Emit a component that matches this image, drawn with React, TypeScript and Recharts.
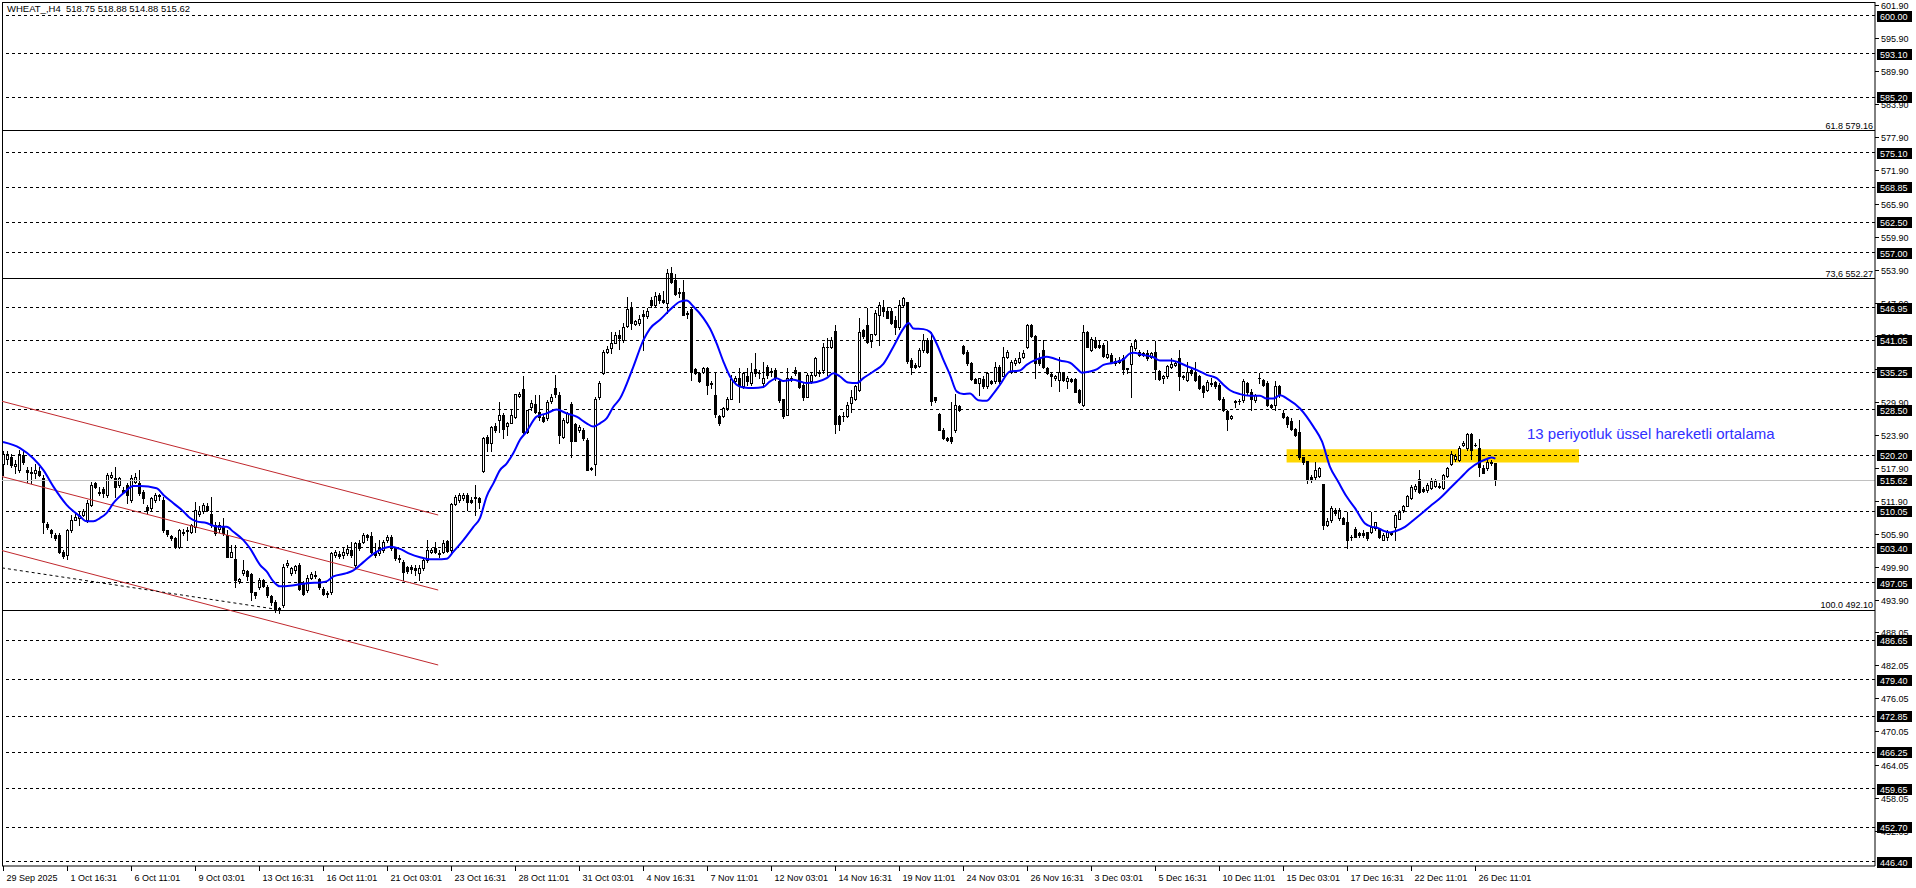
import React from 'react';
import { ComposedChart, Bar, Line, XAxis, YAxis, ReferenceLine, ReferenceArea } from 'recharts';

// WHEAT H4 bars, [open, high, low, close]
const barsOct = [
  [518.7, 520.9, 516.6, 520.5], [519.6, 520.9, 518.7, 520.5], [519.9, 520.5, 518.1, 518.4], [518.3, 519.3, 516.9, 518.7],
  [517.5, 521.2, 517.2, 520.5], [520.2, 520.9, 518.7, 519.0], [517.5, 518.1, 515.4, 517.1], [517.2, 518.1, 515.1, 517.0],
  [516.9, 518.7, 516.0, 517.5], [517.4, 518.0, 516.4, 516.6], [516.0, 516.6, 506.0, 508.1], [507.7, 508.0, 506.9, 507.1],
  [506.6, 506.9, 505.4, 506.0], [505.7, 506.0, 504.8, 505.1], [505.7, 506.0, 502.4, 502.7], [502.7, 503.0, 501.5, 501.9],
  [502.1, 506.9, 501.3, 506.6], [506.6, 509.4, 506.3, 508.4], [508.4, 509.7, 508.4, 509.0], [508.8, 510.0, 507.5, 509.4],
  [509.4, 510.4, 509.1, 510.0], [508.4, 512.1, 508.1, 511.5], [511.2, 515.4, 510.9, 514.8], [515.2, 515.4, 514.2, 514.5],
  [513.6, 514.5, 513.0, 513.3], [514.0, 514.5, 512.7, 513.3], [513.0, 516.9, 512.7, 516.6], [516.3, 517.2, 516.0, 516.6],
  [516.0, 518.1, 512.7, 514.5], [514.8, 516.3, 514.5, 516.0], [513.9, 514.5, 513.3, 513.6], [514.8, 515.1, 511.5, 513.0],
  [512.1, 516.6, 511.8, 516.0], [515.4, 516.9, 515.1, 516.3], [515.1, 517.5, 513.0, 513.3], [513.6, 513.9, 511.5, 512.4],
  [510.8, 511.2, 509.7, 510.3], [510.6, 512.7, 510.0, 512.4], [512.1, 513.3, 511.8, 513.0], [512.8, 513.2, 512.1, 512.9],
  [512.1, 512.7, 506.3, 506.6], [506.6, 506.6, 505.5, 505.9], [505.5, 505.7, 504.8, 505.1], [505.1, 505.3, 503.3, 503.6],
  [503.6, 506.8, 503.3, 506.6], [506.3, 506.9, 505.7, 506.0], [506.4, 507.2, 504.8, 506.6], [506.3, 507.8, 506.0, 507.5],
  [507.2, 511.8, 506.3, 510.3], [509.5, 510.9, 509.1, 510.1], [510.0, 511.6, 509.7, 511.2], [511.0, 511.6, 510.0, 510.2],
  [509.5, 512.7, 507.2, 507.5], [507.5, 508.1, 505.7, 506.0], [506.9, 508.1, 506.3, 507.5], [507.4, 508.8, 505.7, 506.0],
  [505.7, 506.6, 501.7, 501.8], [501.8, 503.9, 501.7, 502.7], [501.3, 503.9, 496.3, 497.6], [497.3, 497.9, 497.0, 497.7],
  [498.9, 501.2, 498.5, 499.4], [499.1, 499.4, 497.6, 498.2], [498.6, 498.8, 493.9, 495.4], [495.3, 495.4, 494.2, 494.8],
  [496.3, 497.9, 496.0, 497.6], [497.5, 497.7, 496.3, 496.5], [496.3, 496.6, 494.5, 494.8], [494.7, 494.8, 493.0, 493.6],
  [493.6, 493.9, 491.8, 492.1], [492.4, 492.7, 491.5, 492.1], [493.0, 500.5, 492.7, 500.0], [500.2, 501.1, 500.0, 500.7],
  [498.9, 500.0, 498.5, 499.7], [499.4, 500.3, 498.8, 500.1], [500.3, 500.6, 495.7, 496.0], [497.0, 497.3, 494.8, 495.1],
  [495.7, 498.5, 495.4, 497.9], [498.0, 499.0, 497.7, 498.6], [498.2, 499.1, 497.9, 498.5], [497.7, 498.0, 496.0, 496.3],
  [496.0, 496.3, 494.8, 495.1], [495.2, 495.5, 494.5, 495.0], [495.4, 502.7, 495.1, 502.4], [502.1, 503.0, 501.8, 502.7],
  [502.3, 502.9, 501.5, 502.0], [502.1, 503.6, 501.5, 502.7], [502.4, 503.9, 502.1, 503.1], [503.0, 504.5, 501.8, 502.1],
  [500.3, 504.5, 500.0, 504.2], [504.2, 504.8, 503.0, 503.3], [504.5, 506.0, 504.2, 505.7], [505.7, 505.9, 504.8, 505.3],
  [505.5, 506.3, 502.4, 502.7], [502.7, 504.2, 501.8, 502.1], [502.4, 504.8, 502.1, 503.3], [503.0, 504.8, 502.7, 504.5],
  [504.8, 505.7, 504.5, 505.4], [505.4, 505.7, 503.0, 503.3], [503.3, 503.6, 501.2, 501.5], [501.3, 502.1, 500.9, 501.5],
  [500.9, 501.2, 497.6, 499.0], [499.9, 500.1, 498.8, 499.1], [499.9, 500.3, 498.8, 499.6], [499.7, 500.3, 498.5, 499.4],
  [498.8, 500.3, 497.6, 499.7], [499.7, 501.5, 499.4, 501.2], [501.2, 504.8, 500.9, 503.0], [502.7, 503.3, 502.4, 503.0],
  [503.3, 504.5, 502.4, 502.7], [502.4, 503.0, 501.8, 502.3], [502.7, 504.8, 502.4, 504.2], [504.7, 504.9, 502.7, 502.9],
  [503.0, 511.6, 502.7, 511.3], [511.4, 513.0, 511.2, 512.7], [512.1, 513.4, 511.8, 513.0], [512.4, 513.3, 512.1, 513.0],
  [513.0, 513.4, 510.3, 511.8], [512.1, 512.7, 511.5, 511.8], [512.7, 514.8, 509.3, 512.4], [512.4, 512.7, 510.6, 511.8],
  [517.4, 523.6, 517.2, 523.3], [523.6, 523.9, 520.9, 522.4], [522.5, 525.5, 520.9, 525.4], [525.5, 526.0, 524.5, 524.7],
  [526.6, 529.9, 524.5, 527.5], [527.5, 527.8, 523.3, 524.9], [525.5, 526.3, 523.9, 526.0], [526.1, 528.4, 526.0, 527.5],
  [527.2, 531.4, 526.9, 531.3], [530.9, 531.7, 530.8, 531.3], [532.2, 534.6, 524.2, 524.5], [524.5, 528.5, 524.3, 528.4],
  [528.9, 530.2, 528.4, 529.6], [529.5, 531.1, 527.8, 528.1], [528.1, 531.1, 526.6, 527.2], [527.2, 527.5, 526.3, 526.5],
  [526.9, 530.2, 526.6, 529.9], [530.1, 531.4, 529.6, 530.8], [532.5, 534.8, 530.8, 531.4], [531.1, 531.7, 522.4, 523.9],
  [523.6, 526.9, 523.3, 526.6], [526.3, 528.1, 526.0, 527.8], [529.5, 529.9, 519.9, 522.8], [525.9, 526.1, 522.7, 522.8],
  [524.8, 525.7, 524.5, 525.4], [524.8, 525.1, 523.0, 523.3], [523.0, 523.3, 517.5, 517.6], [517.8, 518.1, 517.5, 517.7],
  [518.6, 530.8, 516.6, 530.5], [530.7, 533.6, 530.5, 533.4],
];

const barsNov = [
  [535.1, 539.3, 535.0, 539.0], [539.0, 540.0, 538.7, 539.5], [539.6, 542.6, 538.7, 540.5], [540.6, 542.6, 540.5, 542.0],
  [542.0, 543.0, 539.5, 541.5], [541.1, 544.2, 540.8, 543.4], [543.7, 549.0, 543.5, 546.7], [547.0, 548.1, 543.2, 544.3],
  [544.0, 544.8, 543.8, 544.6], [544.3, 545.7, 543.8, 545.0], [545.8, 546.6, 539.3, 545.4], [545.5, 546.9, 545.1, 546.4],
  [548.4, 549.0, 547.2, 547.5], [547.5, 549.9, 547.2, 549.1], [549.3, 549.7, 547.8, 548.4], [548.4, 550.1, 547.9, 548.1],
  [547.9, 554.1, 546.0, 553.3], [553.2, 554.4, 551.4, 551.7], [552.1, 553.1, 549.3, 549.5], [549.8, 550.5, 549.0, 549.6],
  [549.9, 552.0, 545.7, 545.7], [546.0, 546.3, 545.1, 545.9], [546.7, 546.9, 533.9, 535.4], [535.8, 536.0, 535.0, 535.2],
  [535.1, 535.4, 533.5, 533.7], [535.4, 536.3, 535.1, 536.0], [536.0, 536.3, 531.4, 533.0], [533.4, 533.6, 532.4, 533.2],
  [531.1, 535.1, 527.2, 527.7], [527.4, 527.5, 525.7, 526.0], [527.4, 529.0, 527.2, 528.7], [528.7, 530.8, 528.4, 530.5],
  [530.5, 534.8, 530.4, 534.0], [533.6, 534.5, 533.3, 534.2], [534.2, 536.0, 529.9, 532.7], [532.7, 535.4, 532.5, 535.1],
  [534.5, 536.0, 532.9, 533.6], [533.3, 536.9, 533.0, 535.4], [535.8, 538.7, 534.5, 535.1], [535.2, 535.7, 534.2, 535.1],
  [533.4, 537.2, 532.6, 534.3], [536.3, 536.6, 534.2, 534.8], [535.5, 536.0, 534.5, 535.3], [535.7, 536.0, 533.9, 534.2],
  [533.6, 533.9, 529.9, 530.2], [530.4, 530.5, 526.9, 527.4], [527.6, 536.0, 527.5, 534.2], [534.1, 534.5, 533.6, 534.2],
  [535.7, 536.3, 534.8, 535.1], [535.1, 535.4, 532.5, 532.6], [532.9, 533.3, 530.2, 530.7], [530.8, 535.1, 530.7, 534.8],
  [533.6, 535.1, 533.3, 534.8], [534.8, 538.1, 534.5, 537.8], [535.2, 535.7, 534.6, 535.4], [535.6, 540.5, 535.2, 539.9],
  [539.9, 541.4, 534.8, 539.9], [539.9, 541.6, 539.6, 541.2], [542.8, 543.8, 524.2, 525.9], [527.4, 527.5, 524.8, 525.9],
  [527.4, 528.1, 526.5, 527.3], [527.4, 529.9, 527.2, 529.4], [529.7, 532.0, 528.1, 530.8], [530.5, 532.9, 530.2, 532.7],
  [532.0, 545.1, 531.9, 542.5], [543.0, 543.2, 541.4, 541.9], [543.8, 546.9, 540.5, 540.8], [541.0, 542.3, 539.9, 542.2],
  [542.3, 546.6, 542.0, 546.1], [545.7, 548.1, 540.2, 547.5], [546.9, 548.4, 545.4, 546.3], [546.3, 547.2, 545.1, 545.1],
  [546.3, 546.9, 544.0, 544.3], [544.8, 545.4, 542.3, 543.4], [543.5, 548.4, 543.2, 547.5], [547.5, 549.0, 547.2, 548.7],
  [548.1, 548.1, 536.9, 537.4], [537.5, 537.8, 535.0, 536.2], [536.6, 536.9, 536.0, 536.3], [536.4, 539.6, 536.3, 539.3],
  [539.3, 542.3, 539.0, 541.1], [541.1, 541.4, 538.7, 539.0], [541.0, 542.6, 529.3, 530.1], [530.7, 530.8, 529.9, 530.3],
  [527.7, 527.8, 524.7, 524.8], [524.8, 525.1, 523.1, 523.3], [523.3, 523.6, 522.7, 523.0], [523.6, 529.9, 522.4, 522.7],
  [524.8, 531.4, 524.5, 529.3], [529.2, 529.3, 528.3, 528.4], [540.1, 540.2, 538.6, 538.7], [539.0, 539.3, 536.5, 536.9],
  [536.9, 537.2, 533.9, 534.0], [534.0, 534.2, 533.3, 533.4], [533.3, 534.2, 531.1, 534.2], [534.0, 534.5, 532.5, 532.7],
  [532.8, 535.4, 532.5, 535.1], [533.6, 533.9, 533.1, 533.4], [533.6, 537.2, 533.3, 536.3], [536.3, 536.6, 533.3, 533.6],
  [534.6, 539.9, 534.5, 538.1], [538.0, 539.3, 537.8, 539.0], [535.4, 537.5, 535.1, 537.2], [536.9, 537.8, 536.6, 537.5],
  [537.2, 539.0, 536.9, 537.8], [538.0, 539.3, 537.8, 538.7], [539.9, 544.1, 539.6, 543.8], [543.8, 544.0, 541.7, 541.8],
  [541.8, 542.0, 534.2, 536.9], [537.8, 538.7, 536.6, 536.9], [539.4, 541.1, 536.0, 536.3], [536.0, 536.3, 535.0, 535.2],
];

const barsDec = [
  [535.0, 535.2, 532.7, 534.5], [534.2, 534.8, 533.9, 534.6], [533.9, 538.1, 531.9, 535.4], [535.2, 535.4, 533.6, 533.9],
  [533.6, 534.5, 532.5, 534.2], [534.0, 534.3, 533.5, 533.7], [534.0, 534.2, 531.6, 531.7], [532.0, 532.2, 529.6, 529.9],
  [529.3, 543.8, 529.1, 542.5], [542.6, 542.8, 539.8, 539.9], [539.3, 541.6, 539.2, 541.3], [541.1, 541.6, 539.6, 539.9],
  [540.2, 541.1, 539.6, 539.9], [540.2, 540.5, 538.1, 538.2], [538.0, 541.0, 537.8, 538.6], [538.4, 538.7, 536.9, 537.2],
  [537.3, 537.8, 536.6, 537.0], [537.2, 538.1, 536.9, 537.5], [537.9, 538.4, 535.0, 535.9], [535.9, 536.1, 535.1, 536.0],
  [536.7, 540.5, 530.8, 540.0], [539.6, 541.3, 539.4, 541.0], [539.0, 539.3, 538.2, 538.4], [538.7, 539.0, 538.2, 538.4],
  [538.8, 539.3, 537.5, 537.8], [538.1, 539.0, 537.8, 538.7], [539.0, 541.0, 534.0, 535.8], [535.5, 535.7, 533.9, 534.0],
  [534.2, 534.8, 533.3, 534.6], [534.5, 536.6, 534.2, 536.4], [536.3, 537.8, 536.0, 536.7], [536.6, 537.2, 536.4, 537.0],
  [537.8, 539.3, 532.0, 534.5], [534.6, 534.8, 534.0, 534.4], [533.9, 537.2, 533.6, 535.4], [535.7, 536.0, 534.8, 535.1],
  [535.1, 537.2, 533.6, 533.9], [534.5, 534.8, 532.3, 532.5], [532.8, 533.0, 530.8, 531.7], [532.0, 533.9, 531.9, 533.5],
  [533.1, 534.2, 532.8, 533.4], [533.5, 533.6, 532.5, 532.7], [533.0, 533.3, 530.2, 530.5], [530.5, 530.7, 528.3, 528.4],
  [528.2, 528.4, 524.8, 526.7], [526.9, 527.5, 526.7, 527.3], [529.9, 530.2, 528.9, 530.0], [530.0, 530.4, 529.5, 530.1],
  [530.2, 534.0, 529.9, 533.7], [533.4, 533.5, 531.4, 531.7], [531.7, 532.3, 528.4, 530.4], [530.2, 531.4, 529.9, 531.1],
  [534.2, 535.1, 533.4, 534.3], [533.9, 534.0, 532.8, 533.0], [533.3, 533.6, 529.1, 529.3], [529.3, 529.5, 528.7, 528.9],
  [529.3, 533.6, 528.5, 532.8], [532.7, 533.0, 530.8, 531.1], [527.8, 528.4, 526.9, 527.1], [527.2, 527.3, 525.4, 525.9],
  [526.5, 526.9, 524.8, 524.9], [524.9, 525.1, 523.7, 523.9], [524.5, 526.6, 519.6, 519.8], [519.8, 519.9, 518.7, 519.0],
  [519.2, 519.2, 515.1, 515.7], [516.2, 516.6, 515.4, 515.8], [516.2, 519.0, 515.7, 517.6], [516.4, 518.1, 516.3, 517.8],
  [515.0, 515.0, 506.9, 507.5], [507.5, 508.8, 507.4, 508.3], [508.5, 510.9, 508.1, 510.6], [510.3, 510.7, 509.4, 509.7],
  [508.8, 510.6, 508.5, 510.3], [508.8, 509.0, 507.7, 507.8], [508.1, 509.9, 503.3, 504.9], [505.4, 505.7, 504.9, 505.4],
  [506.8, 507.2, 505.3, 505.4], [506.0, 506.3, 505.4, 505.7], [506.1, 506.6, 505.4, 505.7], [506.2, 506.3, 504.9, 505.1],
  [506.2, 509.9, 506.0, 507.2], [507.0, 508.1, 506.6, 508.0], [506.8, 506.9, 505.1, 505.3], [504.9, 506.0, 504.8, 505.7],
  [505.4, 506.6, 504.9, 506.3], [506.1, 506.3, 505.7, 505.9], [507.2, 509.7, 504.9, 509.4], [508.7, 510.3, 508.6, 509.9],
  [510.3, 511.2, 509.9, 510.9], [511.0, 513.0, 510.9, 512.8], [512.4, 514.8, 512.2, 514.5], [514.0, 515.0, 513.8, 514.6],
  [515.9, 517.5, 513.3, 513.6], [514.0, 514.4, 513.6, 513.8], [513.9, 515.1, 513.6, 514.8], [514.2, 516.0, 514.0, 515.6],
  [514.7, 515.8, 514.4, 515.5], [514.6, 515.1, 514.2, 514.4], [514.2, 516.8, 514.0, 516.6], [516.4, 518.1, 516.3, 517.8],
  [518.6, 520.9, 518.4, 520.4], [519.5, 520.5, 519.2, 520.1], [519.3, 521.8, 519.2, 521.5], [522.1, 522.7, 521.8, 522.4],
  [521.5, 524.2, 521.2, 524.0], [524.0, 524.2, 519.6, 521.2], [522.1, 522.4, 521.8, 522.1], [521.6, 523.1, 516.4, 518.1],
  [517.9, 518.4, 516.9, 517.0], [517.8, 519.3, 517.5, 519.0], [519.0, 519.3, 518.4, 518.8], [518.75, 518.88, 514.88, 515.62],
];

// 13-period EMA: [bar index, value]
const emaPoints = [
  [0, 522.6], [4.25, 521.5], [7.6, 519.6], [10.1, 517.5], [12.6, 514.5], [15.9, 511.2], [19.25, 509.1], [20.9, 508.2],
  [22.6, 508.2], [24.25, 508.8], [25.9, 509.7], [27.6, 511.5], [30.1, 513.3], [32.6, 514.6], [34.25, 514.6], [38.4, 514.2],
  [40.1, 513.0], [42.6, 511.5], [45.1, 510.0], [46.75, 508.8], [48.4, 508.2], [50.9, 507.9], [52.6, 507.4], [54.25, 507.2],
  [55.9, 507.2], [57.6, 506.3], [60.1, 504.8], [61.75, 503.3], [64.25, 500.3], [65.9, 499.1], [67.6, 497.3], [69.25, 496.4],
  [71.75, 496.5], [74.25, 496.8], [76.75, 497.0], [79.25, 497.1], [80.9, 497.3], [82.6, 498.2], [85.9, 498.8], [87.6, 499.3],
  [90.1, 500.8], [92.6, 502.3], [95.1, 503.3], [96.75, 503.6], [99.25, 503.2], [101.75, 502.3], [104.25, 501.7], [106.75, 501.3],
  [108.4, 501.3], [110.9, 501.4], [112.6, 502.7], [115.1, 504.8], [117.6, 507.2], [119.25, 508.8], [120.9, 512.7], [122.6, 515.1],
  [124.25, 517.5], [125.9, 518.7], [127.6, 520.6], [129.25, 523.0], [130.9, 524.5], [133.4, 527.2], [135.9, 527.8], [138.4, 528.5],
  [140.9, 527.8], [143.4, 527.2], [145.9, 526.0], [147.6, 525.4], [149.25, 526.0], [150.9, 526.9], [152.6, 529.0], [154.25, 530.5],
  [157.6, 536.3], [160.1, 541.1], [161.75, 543.2], [164.25, 544.8], [166.75, 546.6], [169.25, 548.1], [170.9, 548.3], [172.6, 547.2],
  [175.1, 545.1], [176.75, 543.2], [178.4, 540.5], [180.1, 537.2], [181.75, 534.5], [183.4, 533.0], [185.1, 532.5], [187.6, 532.4],
  [190.1, 532.6], [191.75, 533.6], [193.4, 534.2], [195.1, 533.7], [197.6, 533.9], [199.25, 533.6], [200.9, 533.3], [203.4, 533.5],
  [205.9, 534.2], [207.6, 535.1], [209.25, 534.5], [211.3, 533.4], [213.4, 533.3], [215.1, 534.2], [217.6, 535.4], [220.1, 536.8],
  [222.6, 539.9], [225.1, 543.2], [226.4, 544.2], [227.6, 543.2], [230.1, 543.1], [231.75, 542.6], [233.4, 540.5], [235.1, 537.5],
  [236.75, 534.8], [238.4, 531.8], [240.1, 531.3], [241.75, 531.4], [243.8, 530.2], [245.9, 530.1], [247.6, 531.4], [249.25, 533.0],
  [251.75, 535.4], [254.25, 535.6], [255.9, 536.6], [258.4, 537.6], [260.9, 538.1], [262.6, 537.8], [264.25, 537.4], [266.75, 537.0],
  [268.4, 536.0], [269.7, 535.2], [271.75, 535.4], [273.4, 535.8], [275.1, 536.6], [277.6, 537.0], [280.1, 537.6], [281.75, 538.7],
  [282.6, 538.8], [285.1, 538.4], [287.6, 538.0], [289.25, 537.4], [291.75, 537.4], [293.4, 537.2], [295.9, 536.4], [298.4, 535.7],
  [300.9, 534.8], [303.4, 534.2], [305.1, 533.0], [306.75, 532.0], [309.25, 531.3], [311.75, 531.0], [314.25, 531.0], [315.9, 530.5],
  [317.6, 530.5], [319.25, 531.1], [321.2, 530.4], [324.25, 528.7], [327.6, 525.4], [329.75, 522.7], [331.75, 518.1], [333.8, 515.4],
  [335.9, 512.7], [338, 510.6], [340.5, 507.8], [342.2, 507.2], [343.4, 507.1], [345.1, 506.5], [346.75, 506.2], [348.4, 506.5],
  [350.5, 507.2], [352.6, 508.4], [355.1, 509.9], [357.2, 511.2], [359.25, 512.4], [361.75, 514.2], [364.25, 516.0], [366.75, 517.8],
  [369.25, 519.0], [370.9, 519.5], [372.1, 519.8], [373.1, 519.6],
];

const timeTicks = [0, 16, 32, 48, 64, 80, 96, 112, 128, 144, 160, 176, 192, 208, 224, 240, 256, 272, 288, 304, 320, 336, 352, 368];
const timeLabels = [
  '29 Sep 2025', '1 Oct 16:31', '6 Oct 11:01', '9 Oct 03:01', '13 Oct 16:31', '16 Oct 11:01', '21 Oct 03:01', '23 Oct 16:31',
  '28 Oct 11:01', '31 Oct 03:01', '4 Nov 16:31', '7 Nov 11:01', '12 Nov 03:01', '14 Nov 16:31', '19 Nov 11:01', '24 Nov 03:01',
  '26 Nov 16:31', '3 Dec 03:01', '5 Dec 16:31', '10 Dec 11:01', '15 Dec 03:01', '17 Dec 16:31', '22 Dec 11:01', '26 Dec 11:01',
];

const priceTicks = [
  601.9, 595.9, 589.9, 583.9, 577.9, 571.9, 565.9, 559.9, 553.9, 547.9, 541.9, 535.9, 529.9, 523.9, 517.9, 511.9, 505.9,
  499.9, 493.9, 488.05, 482.05, 476.05, 470.05, 464.05, 458.05, 452.05,
];
const levelPrices = [
  600.0, 593.1, 585.2, 575.1, 568.85, 562.5, 557.0, 546.95, 541.05, 535.25, 528.5, 520.2, 510.05, 503.4, 497.05, 486.65,
  479.4, 472.85, 466.25, 459.65, 452.7, 446.4,
];
const bidPrice = 515.62;
const fibPrices = [579.16, 552.27, 492.1];
const fibLabels = ['61.8 579.16', '73,6 552.27', '100.0 492.10'];

// trend channel: [x1, y1, x2, y2] in bar index / price
const channelLines = [
  [-0.25, 530.0, 108.8, 509.35],
  [-0.25, 516.33, 108.8, 495.73],
  [-0.25, 502.9, 108.8, 482.12],
];
const supportLine = [-0.25, 499.75, 68.4, 492.23];
const zoneBars = [320.9, 394];
const zonePrices = [518.9, 521.3];

const candles = [...barsOct, ...barsNov, ...barsDec].map(([o, h, l, c], i) => ({ i, o, h, l, c, range: [l, h] }));
const emaData = emaPoints.map(([i, v]) => ({ i, ema: v }));

const Y_MIN = 445.63;
const Y_MAX = 602.49;
const FONT = '"Liberation Sans", Arial, sans-serif';

function Candle(props: any) {
  const { x, y, width, height, payload } = props;
  if (!payload) return null;
  const { o, h, l, c } = payload;
  const top = Math.min(y, y + height);
  const bot = Math.max(y, y + height);
  const span = h - l || 1;
  const py = (p: number) => top + ((h - p) / span) * (bot - top);
  const col = Math.round(x + width / 2);
  const hiY = Math.round(top);
  const loY = Math.round(bot);
  const bTop = Math.round(py(Math.max(o, c)));
  const bBot = Math.round(py(Math.min(o, c)));
  const up = c >= o;
  return (
    <g>
      <line x1={col + 0.5} x2={col + 0.5} y1={hiY} y2={loY + 1} stroke="#000" strokeWidth={1} />
      {bBot - bTop < 1 ? (
        <line x1={col - 1} x2={col + 2} y1={bTop + 0.5} y2={bTop + 0.5} stroke="#000" strokeWidth={1} />
      ) : up ? (
        <rect x={col - 0.5} y={bTop + 0.5} width={2} height={bBot - bTop} fill="#fff" stroke="#000" strokeWidth={1} />
      ) : (
        <rect x={col - 1} y={bTop} width={3} height={bBot - bTop + 1} fill="#000" />
      )}
    </g>
  );
}

function PriceTick(props: any) {
  const { x, y, payload } = props;
  const v = payload.value;
  const axisX = x - 6;
  const yy = Math.round(y);
  const boxed = v === bidPrice || levelPrices.includes(v);
  if (boxed) {
    return (
      <g>
        <rect x={axisX + 2} y={yy - 5} width={35} height={11} fill="#000" />
        <text x={axisX + 5} y={yy + 4} fontSize={9} fill="#fff" fontFamily={FONT}>{v.toFixed(2)}</text>
      </g>
    );
  }
  return (
    <g>
      <line x1={axisX} x2={axisX + 4} y1={yy + 0.5} y2={yy + 0.5} stroke="#000" />
      <text x={axisX + 6} y={yy + 4} fontSize={9} fill="#000" fontFamily={FONT}>{v.toFixed(2)}</text>
    </g>
  );
}

function TimeTick(props: any) {
  const { x, y, payload } = props;
  const k = timeTicks.indexOf(payload.value);
  const lx = Math.round(x) + 0.5;
  const axisY = y - 6;
  return (
    <g>
      <line x1={lx} x2={lx} y1={axisY} y2={axisY + 5} stroke="#000" />
      <text x={lx + 3} y={axisY + 14.5} fontSize={9} fill="#000" fontFamily={FONT}>{timeLabels[k]}</text>
    </g>
  );
}

export default function App() {
  return (
    <div style={{ position: 'absolute', left: 0, top: 0, width: 1916, height: 888, background: '#fff', fontFamily: FONT }}>
      <ComposedChart
        width={1916}
        height={888}
        data={candles}
        margin={{ top: 2, right: 0, bottom: 0, left: 2 }}
      >
        <XAxis
          dataKey="i"
          type="number"
          domain={[-0.25, 468]}
          allowDataOverflow
          ticks={timeTicks}
          interval={0}
          tick={<TimeTick />}
          tickLine={false}
          tickSize={4}
          tickMargin={2}
          height={22}
          axisLine={{ stroke: '#000' }}
        />
        <YAxis
          orientation="right"
          type="number"
          domain={[Y_MIN, Y_MAX]}
          allowDataOverflow
          ticks={[...priceTicks, ...levelPrices, bidPrice]}
          interval={0}
          tick={<PriceTick />}
          tickLine={false}
          tickSize={4}
          tickMargin={2}
          width={41}
          axisLine={{ stroke: '#000' }}
        />
        <ReferenceArea
          x1={zoneBars[0]}
          x2={zoneBars[1]}
          y1={zonePrices[0]}
          y2={zonePrices[1]}
          fill="#ffd700"
          fillOpacity={1}
          stroke="none"
          ifOverflow="visible"
        />
        <ReferenceLine x={-0.25} stroke="#000" shapeRendering="crispEdges" />
        <ReferenceLine y={Y_MAX} stroke="#000" shapeRendering="crispEdges" />
        {levelPrices.map((v) => (
          <ReferenceLine key={'lv' + v} y={v} stroke="#000" strokeDasharray="3 3" shapeRendering="crispEdges" />
        ))}
        <ReferenceLine y={bidPrice} stroke="#c0c0c0" shapeRendering="crispEdges" />
        {fibPrices.map((v, k) => (
          <ReferenceLine
            key={'fib' + v}
            y={v}
            stroke="#000"
            shapeRendering="crispEdges"
            label={{ value: fibLabels[k], position: 'insideBottomRight', offset: 2, fontSize: 9, fill: '#000', fontFamily: FONT }}
          />
        ))}
        {channelLines.map(([x1, y1, x2, y2], k) => (
          <ReferenceLine
            key={'ch' + k}
            segment={[{ x: x1, y: y1 }, { x: x2, y: y2 }]}
            stroke="#c0282d"
            strokeWidth={1}
          />
        ))}
        <ReferenceLine
          segment={[{ x: supportLine[0], y: supportLine[1] }, { x: supportLine[2], y: supportLine[3] }]}
          stroke="#000"
          strokeDasharray="3 3"
        />
        <Bar dataKey="range" barSize={3} shape={(p: any) => <Candle {...p} />} isAnimationActive={false} />
        <Line
          data={emaData}
          dataKey="ema"
          type="monotone"
          stroke="#0000ff"
          strokeWidth={2}
          dot={false}
          activeDot={false}
          isAnimationActive={false}
        />
      </ComposedChart>
      <div style={{ position: 'absolute', left: 7, top: 3, fontSize: 9.5, lineHeight: '12px', color: '#000', whiteSpace: 'pre' }}>
        {'WHEAT_,H4  518.75 518.88 514.88 515.62'}
      </div>
      <div style={{ position: 'absolute', left: 1527, top: 425, fontSize: 15, lineHeight: '18px', color: '#3030ff', whiteSpace: 'nowrap' }}>
        13 periyotluk üssel hareketli ortalama
      </div>
    </div>
  );
}
